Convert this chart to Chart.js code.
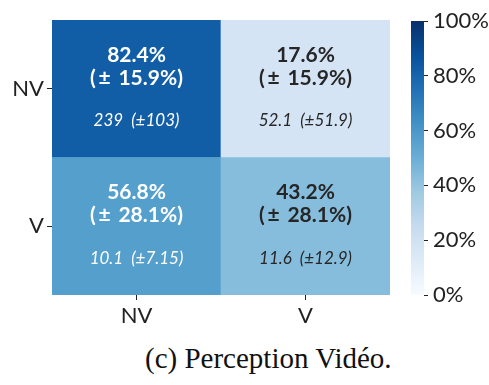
<!DOCTYPE html>
<html>
<head>
<meta charset="utf-8">
<script src="https://cdn.jsdelivr.net/npm/chart.js@4.4.1/dist/chart.umd.min.js"></script>
<style>
  html, body { margin: 0; padding: 0; background: #ffffff; }
  #wrap { position: relative; width: 489px; height: 385px; overflow: hidden; }
  #heat { position: absolute; left: 0; top: 0; }
  #cbar { position: absolute; left: 395px; top: 0; }
  #caption {
    position: absolute; left: 145px; top: 342px;
    font-family: "Liberation Serif", "DejaVu Serif", serif;
    font-size: 29px; color: #111; white-space: nowrap;
  }
</style>
</head>
<body>
<div id="wrap">
  <canvas id="heat" width="400" height="335"></canvas>
  <canvas id="cbar" width="94" height="335"></canvas>
  <div id="caption">(c) Perception Vidéo.</div>
</div>
<script>
// Confusion matrix: rows = true class, columns = predicted class
const rowLabels = ['NV', 'V'];
const colLabels = ['NV', 'V'];
const pctMean = [[82.4, 17.6], [56.8, 43.2]];
const pctStd = [[15.9, 15.9], [28.1, 28.1]];
const countMean = [[239, 52.1], [10.1, 11.6]];
const countStd = [[103, 51.9], [7.15, 12.9]];
const colorbarTicks = [0, 20, 40, 60, 80, 100];

// Sequential "Blues" colour ramp
const bluesStops = ['#f7fbff', '#deebf7', '#c6dbef', '#9ecae1', '#6baed6',
                    '#4292c6', '#2171b5', '#08519c', '#08306b'];
function hexToRgb(h) {
  return [parseInt(h.slice(1, 3), 16), parseInt(h.slice(3, 5), 16), parseInt(h.slice(5, 7), 16)];
}
function blues(t) {
  t = Math.max(0, Math.min(1, t));
  const pos = t * (bluesStops.length - 1);
  const i = Math.min(Math.floor(pos), bluesStops.length - 2);
  const f = pos - i;
  const a = hexToRgb(bluesStops[i]), b = hexToRgb(bluesStops[i + 1]);
  const c = a.map((v, k) => Math.round(v + (b[k] - v) * f));
  return 'rgb(' + c.join(',') + ')';
}
function textColorFor(pct) {
  return pct >= 50 ? '#ffffff' : '#262626';
}

const sansFont = '"Lato", "Open Sans", "DejaVu Sans", sans-serif';
const tickColor = '#222222';

// Rows are stacked bottom-up, so the last row is the first dataset
const datasets = rowLabels.map((_, r) => r).reverse().map(r => ({
  label: rowLabels[r],
  rowIndex: r,
  data: colLabels.map(() => 1),
  backgroundColor: pctMean[r].map(v => blues(v / 100)),
  borderWidth: 0,
  barPercentage: 1.0,
  categoryPercentage: 1.0
}));

const cellText = {
  id: 'cellText',
  afterDatasetsDraw(chart) {
    const ctx = chart.ctx;
    ctx.save();
    ctx.textAlign = 'center';
    ctx.textBaseline = 'middle';
    chart.data.datasets.forEach((ds, di) => {
      const r = ds.rowIndex;
      chart.getDatasetMeta(di).data.forEach((bar, c) => {
        const cx = bar.x;
        const cy = (bar.y + bar.base) / 2;
        ctx.fillStyle = textColorFor(pctMean[r][c]);
        ctx.font = 'bold 21px ' + sansFont;
        ctx.fillText(pctMean[r][c].toFixed(1) + '%', cx, cy - 34);
        ctx.fillText('(\u2009\u00b1\u2009 ' + pctStd[r][c].toFixed(1) + '%)', cx, cy - 11);
        ctx.font = 'italic 17px ' + sansFont;
        ctx.fillText(countMean[r][c] + '  (\u00b1' + countStd[r][c] + ')', cx, cy + 32);
      });
    });
    ctx.restore();
  }
};

new Chart(document.getElementById('heat'), {
  type: 'bar',
  data: { labels: colLabels, datasets },
  plugins: [cellText],
  options: {
    responsive: false,
    animation: false,
    layout: { padding: { left: 0, top: 20, right: 10, bottom: 0 } },
    plugins: { legend: { display: false }, tooltip: { enabled: false } },
    scales: {
      x: {
        stacked: true,
        border: { display: false },
        grid: { offset: false, drawOnChartArea: false, drawTicks: true, tickLength: 5, tickColor: tickColor },
        ticks: { color: tickColor, padding: 3, font: { family: sansFont, size: 22 } },
        afterFit(scale) { scale.height = 40; }
      },
      y: {
        stacked: true,
        min: 0,
        max: rowLabels.length,
        border: { display: false },
        grid: { drawOnChartArea: false, drawTicks: true, tickLength: 5, tickColor: tickColor },
        afterBuildTicks(scale) {
          scale.ticks = rowLabels.map((_, i) => ({ value: i + 0.5 }));
        },
        ticks: {
          color: tickColor, padding: 3, font: { family: sansFont, size: 22 },
          callback: v => rowLabels[rowLabels.length - 1 - Math.floor(v)]
        },
        afterFit(scale) { scale.width = 52; }
      }
    }
  }
});

// Colour bar: one full-height bar filled with the same ramp
new Chart(document.getElementById('cbar'), {
  type: 'bar',
  data: {
    labels: [''],
    datasets: [{
      data: [colorbarTicks[colorbarTicks.length - 1]],
      borderWidth: 0,
      barPercentage: 1.0,
      categoryPercentage: 1.0,
      backgroundColor(ctx) {
        const area = ctx.chart.chartArea;
        if (!area) return bluesStops[4];
        const g = ctx.chart.ctx.createLinearGradient(0, area.bottom, 0, area.top);
        bluesStops.forEach((col, i) => g.addColorStop(i / (bluesStops.length - 1), col));
        return g;
      }
    }]
  },
  options: {
    responsive: false,
    animation: false,
    layout: { padding: { left: 16, top: 21, right: 0, bottom: 40 } },
    plugins: { legend: { display: false }, tooltip: { enabled: false } },
    scales: {
      x: { display: false },
      y: {
        position: 'right',
        min: colorbarTicks[0],
        max: colorbarTicks[colorbarTicks.length - 1],
        border: { display: false },
        grid: { drawOnChartArea: false, drawTicks: true, tickLength: 4, tickColor: tickColor },
        afterBuildTicks(scale) {
          scale.ticks = colorbarTicks.map(v => ({ value: v }));
        },
        ticks: {
          color: tickColor, padding: 5, font: { family: sansFont, size: 22 },
          callback: v => v + '%'
        },
        afterFit(scale) { scale.width = 65; }
      }
    }
  }
});
</script>
</body>
</html>
